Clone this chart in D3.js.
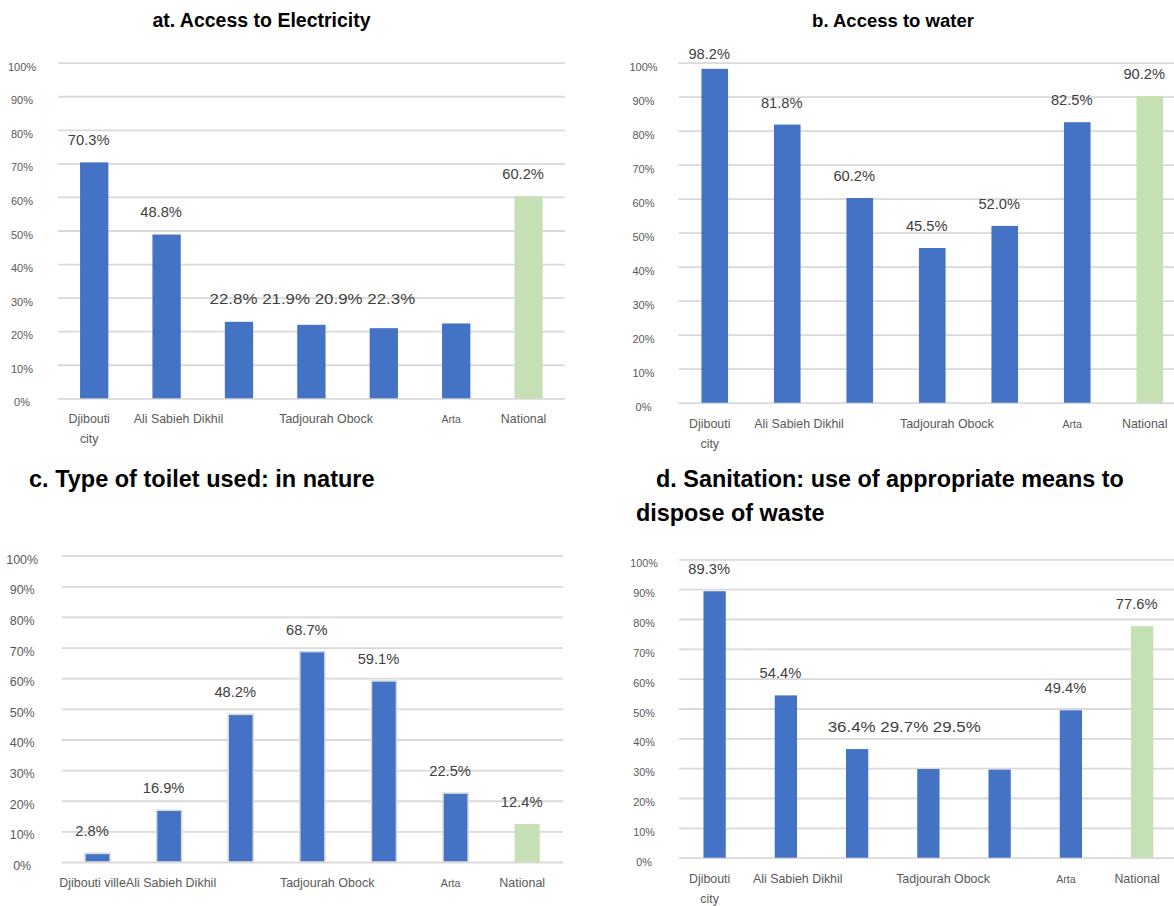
<!DOCTYPE html>
<html>
<head>
<meta charset="utf-8">
<script src="https://cdn.jsdelivr.net/npm/d3@7"></script>
<style>
  html, body { margin: 0; padding: 0; background: #fff; }
  svg { display: block; font-family: "Liberation Sans", Arial, sans-serif; }
</style>
</head>
<body>
<svg id="chart" width="1174" height="906"></svg>
<script>
// Regions of Djibouti plus the national figure
const categories = ["Djibouti city", "Ali Sabieh", "Dikhil", "Tadjourah", "Obock", "Arta", "National"];

// Percentages per region
const electricity = [70.3, 48.8, 22.8, 21.9, 20.9, 22.3, 60.2];
const water       = [98.2, 81.8, 60.2, 45.5, 52.0, 82.5, 90.2];
const toiletNature = [2.8, 16.9, 48.2, 68.7, 59.1, 22.5, 12.4];
const sanitation  = [89.3, 54.4, 36.4, 29.7, 29.5, 49.4, 77.6];

// How the value labels are grouped: a group is written as one line of text,
// starting over the first bar of the group
const electricityRuns = [[0], [1], [2, 3, 4, 5], [6]];
const waterRuns       = [[0], [1], [2], [3], [4], [5], [6]];
const toiletRuns      = [[0], [1], [2], [3], [4], [5], [6]];
const sanitationRuns  = [[0], [1], [2, 3, 4], [5], [6]];

// Y axis tick values
const yTicks = [0, 0.1, 0.2, 0.3, 0.4, 0.5, 0.6, 0.7, 0.8, 0.9, 1.0];

// Category axis labels: "lead" is centred under its bar, "tail" runs on after it
const axisLabelsCity = [
  { cat: "Djibouti city", lead: "Djibouti", tail: "", second: "city" },
  { cat: "Ali Sabieh", lead: "Ali Sabieh", tail: " Dikhil" },
  { cat: "Tadjourah", lead: "Tadjourah", tail: " Obock" },
  { cat: "Arta", lead: "Arta", tail: "", small: true },
  { cat: "National", lead: "National", tail: "" }
];
const axisLabelsVille = [
  { cat: "Djibouti city", lead: "Djibouti ville", tail: "Ali Sabieh Dikhil" },
  { cat: "Tadjourah", lead: "Tadjourah", tail: " Obock" },
  { cat: "Arta", lead: "Arta", tail: "", small: true },
  { cat: "National", lead: "National", tail: "" }
];

const BLUE = "#4472C4";
const GREEN = "#C5E0B4";
const GRID = "#d9d9d9";

const panels = [
  {
    values: electricity, runs: electricityRuns, labels: axisLabelsCity,
    x0: 58, x1: 564.8, yTop: 62.7, yBot: 398.3, padding: 0.609,
    tickSize: 11, tickOffset: -36, labelSize: 12.4, labelGap: 17.5,
    title: [{ text: "at. Access to Electricity", x: 261.5, y: 27, anchor: "middle" }], titleSize: 19.5
  },
  {
    values: water, runs: waterRuns, labels: axisLabelsCity,
    x0: 678.5, x1: 1186, yTop: 62.7, yBot: 402.7, padding: 0.633,
    tickSize: 11, tickOffset: -35, labelSize: 12.4, labelGap: 17,
    title: [{ text: "b. Access to water", x: 893, y: 27, anchor: "middle" }], titleSize: 18.5
  },
  {
    values: toiletNature, runs: toiletRuns, labels: axisLabelsVille, outlined: true,
    x0: 61.7, x1: 563, yTop: 555.7, yBot: 862, padding: 0.65,
    tickSize: 12.5, tickOffset: -39.5, labelSize: 12.5, labelGap: 17,
    title: [{ text: "c. Type of toilet used: in nature", x: 29, y: 486.7, anchor: "start" }], titleSize: 23.5
  },
  {
    values: sanitation, runs: sanitationRuns, labels: axisLabelsCity,
    x0: 679, x1: 1177.75, yTop: 559.3, yBot: 857.7, padding: 0.687,
    tickSize: 10.8, tickOffset: -35, labelSize: 12.4, labelGap: 17.5,
    title: [
      { text: "d. Sanitation: use of appropriate means to", x: 656, y: 486.7, anchor: "start" },
      { text: "dispose of waste", x: 636, y: 520.5, anchor: "start" }
    ], titleSize: 23.4
  }
];

const svg = d3.select("#chart");
svg.append("rect").attr("width", 1174).attr("height", 906).attr("fill", "#fff");

const fmt = v => d3.format(".1f")(v) + "%";
const RUN_STRETCH = 1.15;

panels.forEach(p => {
  const g = svg.append("g");

  const x = d3.scaleBand()
    .domain(categories)
    .range([p.x0, p.x1])
    .paddingInner(p.padding)
    .paddingOuter(p.padding / 2);

  const y = d3.scaleLinear().domain([0, 1]).range([p.yBot, p.yTop]);

  // Gridlines and percentage ticks
  const yAxis = d3.axisLeft(y)
    .tickValues(yTicks)
    .tickFormat(d3.format(".0%"))
    .tickSizeInner(-(p.x1 - p.x0))
    .tickSizeOuter(0);

  const ax = g.append("g")
    .attr("transform", `translate(${p.x0},0)`)
    .call(yAxis);
  ax.select(".domain").remove();
  ax.selectAll(".tick line")
    .attr("stroke", GRID)
    .attr("stroke-width", 1.8);
  ax.selectAll(".tick text")
    .attr("x", p.tickOffset)
    .attr("dy", null)
    .attr("y", 7.5)
    .attr("text-anchor", "middle")
    .attr("fill", "#595959")
    .style("font-size", p.tickSize + "px")
    .style("font-family", "'Liberation Sans', Arial, sans-serif");

  // Bars
  const bw = x.bandwidth();
  g.selectAll("rect.bar")
    .data(p.values)
    .join("rect")
    .attr("class", "bar")
    .attr("x", (d, i) => x(categories[i]))
    .attr("y", d => y(d / 100))
    .attr("width", bw)
    .attr("height", d => y(0) - y(d / 100))
    .attr("fill", (d, i) => categories[i] === "National" ? GREEN : BLUE)
    .attr("stroke", (d, i) => p.outlined && categories[i] !== "National" ? GRID : "none")
    .attr("stroke-width", 1.6);

  // Value labels above the bars, grouped into runs
  p.runs.forEach(run => {
    const first = run[0];
    const v0 = p.values[first];
    const cx = x(categories[first]) + bw / 2 - 5.5;
    const t = g.append("text")
      .attr("fill", "#404040")
      .style("font-size", "14.7px")
      .style("white-space", "pre")
      .attr("y", Math.max(y(v0 / 100) - p.labelGap, y(1) - 4))
      .text(fmt(v0));
    const w0 = t.node().getComputedTextLength();
    if (run.length > 1) {
      t.text(run.map(i => fmt(p.values[i])).join(" "));
      const wAll = t.node().getComputedTextLength();
      t.attr("textLength", wAll * RUN_STRETCH)
        .attr("lengthAdjust", "spacingAndGlyphs")
        .attr("x", cx - (w0 * RUN_STRETCH) / 2);
    } else {
      t.attr("x", cx - w0 / 2);
    }
  });

  // Category labels
  p.labels.forEach(l => {
    const cx = x(l.cat) + bw / 2 - 5;
    const size = l.small ? p.labelSize * 0.85 : p.labelSize;
    const t = g.append("text")
      .attr("fill", "#595959")
      .style("font-size", size + "px")
      .style("white-space", "pre")
      .attr("y", y(0) + 25)
      .text(l.lead);
    const leadW = t.node().getComputedTextLength();
    t.attr("x", cx - leadW / 2).text(l.lead + l.tail);
    if (l.second) {
      g.append("text")
        .attr("fill", "#595959")
        .style("font-size", size + "px")
        .attr("x", cx)
        .attr("y", y(0) + 45)
        .attr("text-anchor", "middle")
        .text(l.second);
    }
  });

  // Panel title
  p.title.forEach(tl => {
    g.append("text")
      .attr("x", tl.x)
      .attr("y", tl.y)
      .attr("text-anchor", tl.anchor)
      .attr("fill", "#000")
      .style("font-size", p.titleSize + "px")
      .style("font-weight", "bold")
      .text(tl.text);
  });
});
</script>
</body>
</html>
